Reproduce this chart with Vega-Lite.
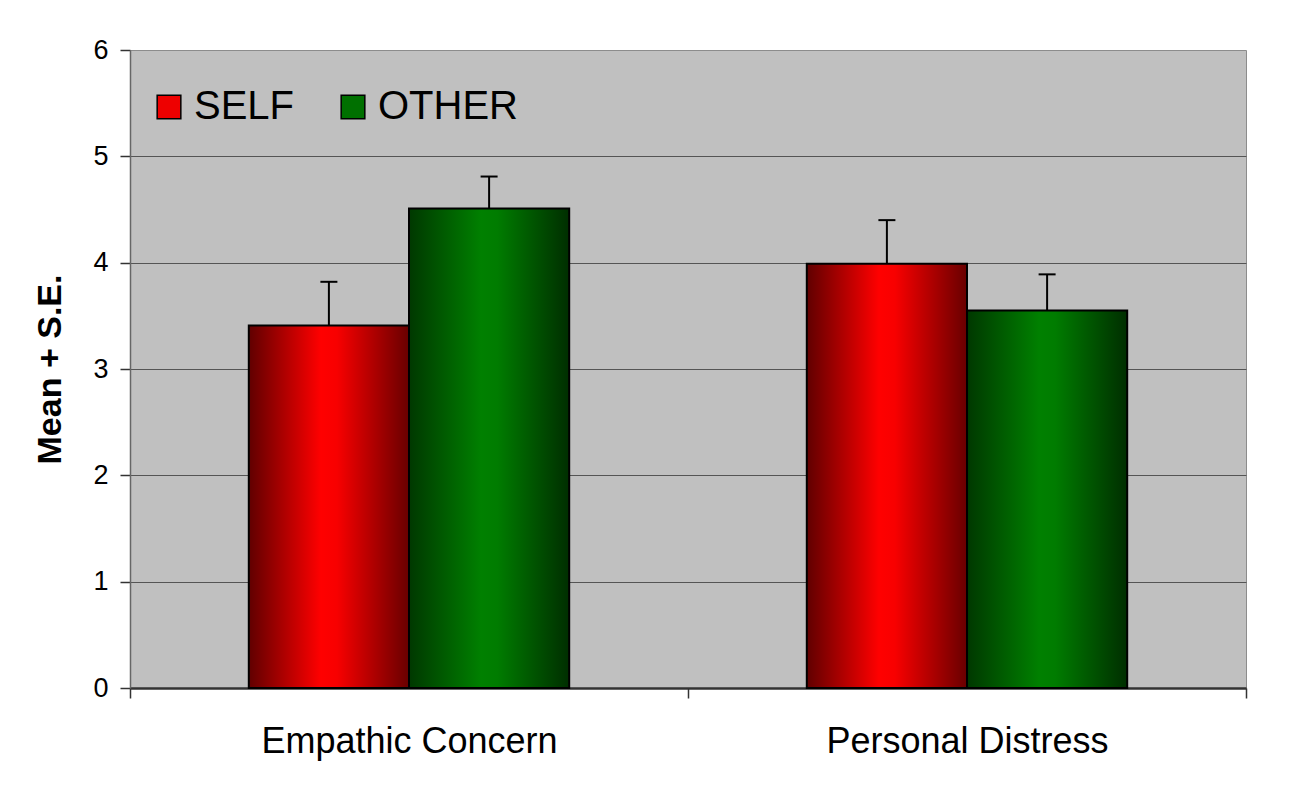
{
  "$schema": "https://vega.github.io/schema/vega-lite/v6.json",
  "autosize": "none",
  "width": 1116,
  "height": 638,
  "padding": {"left": 130, "top": 50, "right": 45, "bottom": 107},
  "background": "white",
  "config": {
    "font": "Liberation Sans",
    "view": {"fill": "#c0c0c0", "stroke": "#8c8c8c", "strokeWidth": 1}
  },
  "data": {
    "values": [
      {"cat": "Empathic Concern", "series": "SELF", "mean": 3.41, "upper": 3.82},
      {"cat": "Empathic Concern", "series": "OTHER", "mean": 4.51, "upper": 4.81},
      {"cat": "Personal Distress", "series": "SELF", "mean": 3.99, "upper": 4.40},
      {"cat": "Personal Distress", "series": "OTHER", "mean": 3.55, "upper": 3.89}
    ]
  },
  "encoding": {
    "x": {
      "field": "cat",
      "type": "nominal",
      "sort": ["Empathic Concern", "Personal Distress"],
      "scale": {"paddingInner": 0, "paddingOuter": 0},
      "axis": {
        "title": null,
        "labelAngle": 0,
        "labelFontSize": 36,
        "labelColor": "black",
        "labelPadding": 26,
        "labelLimit": 600,
        "tickSize": 10,
        "tickColor": "#333333",
        "tickWidth": 1.5,
        "tickBand": "extent",
        "domainColor": "#333333",
        "domainWidth": 2.5,
        "grid": false
      }
    },
    "xOffset": {
      "field": "series",
      "type": "nominal",
      "sort": ["SELF", "OTHER"],
      "scale": {"paddingInner": 0, "paddingOuter": 0.7415}
    },
    "y": {
      "field": "mean",
      "type": "quantitative",
      "scale": {"domain": [0, 6], "nice": false},
      "axis": {
        "values": [0, 1, 2, 3, 4, 5, 6],
        "format": "d",
        "title": "Mean + S.E.",
        "titleFontSize": 34,
        "titleFontWeight": "bold",
        "titleColor": "black",
        "titlePadding": 25,
        "labelFontSize": 27,
        "labelColor": "black",
        "labelPadding": 12,
        "tickSize": 10,
        "tickColor": "#333333",
        "tickWidth": 1.5,
        "domainColor": "#666666",
        "domainWidth": 1.5,
        "grid": true,
        "gridColor": "#555555",
        "gridWidth": 1,
        "gridOpacity": {"expr": "datum.value == 6 ? 0 : 1"}
      }
    }
  },
  "layer": [
    {
      "mark": {"type": "bar", "stroke": "black", "strokeWidth": 2, "opacity": 1},
      "encoding": {
        "fill": {
          "condition": {
            "test": "datum.series == 'SELF'",
            "value": {"gradient": "linear", "x1": 0, "y1": 0, "x2": 1, "y2": 0, "stops": [
              {"offset": 0, "color": "#600000"},
              {"offset": 0.45, "color": "#ff0000"},
              {"offset": 0.55, "color": "#f80000"},
              {"offset": 1, "color": "#680000"}
            ]}
          },
          "value": {"gradient": "linear", "x1": 0, "y1": 0, "x2": 1, "y2": 0, "stops": [
            {"offset": 0, "color": "#003800"},
            {"offset": 0.45, "color": "#008000"},
            {"offset": 0.55, "color": "#007c00"},
            {"offset": 1, "color": "#002e00"}
          ]}
        }
      }
    },
    {
      "mark": {"type": "rule", "color": "black", "strokeWidth": 2},
      "encoding": {
        "y2": {"field": "upper"}
      }
    },
    {
      "mark": {"type": "tick", "color": "black", "thickness": 2, "size": 17, "opacity": 1},
      "encoding": {
        "y": {"field": "upper", "type": "quantitative"}
      }
    },
    {
      "mark": {"type": "square", "opacity": 0, "size": 1},
      "encoding": {
        "color": {
          "field": "series",
          "type": "nominal",
          "sort": ["SELF", "OTHER"],
          "scale": {"domain": ["SELF", "OTHER"], "range": ["#ee0000", "#007000"]},
          "legend": {
            "title": null,
            "orient": "none",
            "direction": "horizontal",
            "legendX": 19,
            "legendY": 37,
            "padding": 0,
            "symbolType": "square",
            "symbolSize": 560,
            "symbolStrokeColor": "black",
            "symbolStrokeWidth": 1.5,
            "symbolOpacity": 1,
            "labelFontSize": 40,
            "labelColor": "black",
            "labelOffset": 5,
            "labelLimit": 300,
            "columnPadding": 38
          }
        }
      }
    }
  ]
}
